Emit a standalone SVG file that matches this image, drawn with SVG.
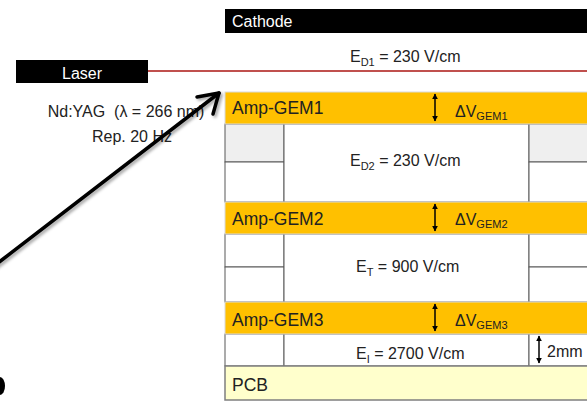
<svg xmlns="http://www.w3.org/2000/svg" width="587" height="403" viewBox="0 0 587 403">
<style>
text{font-family:"Liberation Sans",Arial,sans-serif;fill:#222}
.lbl{font-size:16px}
.wt{fill:#fff;font-size:16px}
.gem{font-size:17.5px}
.band{fill:#ffc000;stroke:#d9d9d9;stroke-width:1}
.cell{fill:#fff;stroke:#595959;stroke-width:1}
.gray{fill:#efefef;stroke:#595959;stroke-width:1}
.sub{font-size:11px}
.dbl{stroke:#000;stroke-width:1.5;marker-start:url(#sm);marker-end:url(#sm)}
</style>
<defs>
<marker id="sm" viewBox="0 0 10 10" refX="9" refY="5" markerWidth="4" markerHeight="4" orient="auto-start-reverse" markerUnits="strokeWidth">
<path d="M0,0 L10,5 L0,10 z" fill="#000"/>
</marker>
<filter id="sh" x="-20%" y="-20%" width="140%" height="140%">
<feDropShadow dx="2" dy="2" stdDeviation="1.5" flood-color="#000" flood-opacity="0.35"/>
</filter>
</defs>

<g id="cathode">
<rect x="225" y="9" width="362" height="24" fill="#000"/>
<text class="wt" x="232" y="27">Cathode</text>
</g>

<g id="laser">
<rect x="16" y="60" width="132" height="23" fill="#000"/>
<text class="wt" x="82" y="79" text-anchor="middle">Laser</text>
<text class="lbl" x="126" y="117" text-anchor="middle" font-size="15" xml:space="preserve">Nd:YAG  (λ = 266 nm)</text>
<text class="lbl" x="132" y="142" text-anchor="middle" font-size="15">Rep. 20 Hz</text>
</g>

<g id="drift1">
<text class="lbl" x="350" y="62">E<tspan class="sub" dy="4">D1</tspan><tspan dy="-4"> = 230 V/cm</tspan></text>
</g>

<g id="cells">
<rect class="gray" x="225" y="124" width="59" height="38"/>
<rect class="cell" x="225" y="162" width="59" height="40"/>
<rect class="cell" x="284" y="124" width="245" height="78"/>
<rect class="gray" x="529" y="124" width="60" height="38"/>
<rect class="cell" x="529" y="162" width="60" height="40"/>
<rect class="cell" x="225" y="234" width="59" height="33"/>
<rect class="cell" x="225" y="267" width="59" height="35"/>
<rect class="cell" x="284" y="234" width="245" height="68"/>
<rect class="cell" x="529" y="234" width="60" height="33"/>
<rect class="cell" x="529" y="267" width="60" height="35"/>
<rect class="cell" x="225" y="334" width="59" height="32"/>
<rect class="cell" x="284" y="334" width="245" height="32"/>
<rect class="cell" x="529" y="334" width="60" height="32"/>
</g>

<g id="gem1">
<rect class="band" x="225" y="92" width="364" height="32"/>
<text class="gem" x="232" y="114">Amp-GEM1</text>
<text class="lbl" x="455" y="117">ΔV<tspan class="sub" dy="3">GEM1</tspan></text>
</g>
<g id="drift2">
<text class="lbl" x="350" y="166">E<tspan class="sub" dy="4">D2</tspan><tspan dy="-4"> = 230 V/cm</tspan></text>
</g>

<g id="gem2">
<rect class="band" x="225" y="202" width="364" height="32"/>
<text class="gem" x="232" y="225">Amp-GEM2</text>
<text class="lbl" x="455" y="225">ΔV<tspan class="sub" dy="3">GEM2</tspan></text>
</g>
<g id="transfer">
<text class="lbl" x="356" y="272">E<tspan class="sub" dy="4">T</tspan><tspan dy="-4"> = 900 V/cm</tspan></text>
</g>

<g id="gem3">
<rect class="band" x="225" y="302" width="364" height="32"/>
<text class="gem" x="232" y="326">Amp-GEM3</text>
<text class="lbl" x="455" y="326">ΔV<tspan class="sub" dy="3">GEM3</tspan></text>
</g>
<g id="induction">
<text class="lbl" x="356" y="359">E<tspan class="sub" dy="4">I</tspan><tspan dy="-4"> = 2700 V/cm</tspan></text>
<text class="lbl" x="547" y="357" font-size="17">2mm</text>
</g>

<g id="pcb">
<rect x="225" y="366" width="364" height="34" fill="#ffffcc" stroke="#7f7f7f" stroke-width="1.5"/>
<text class="gem" x="232" y="391">PCB</text>
</g>

<g id="connectors">
<line x1="148" y1="71" x2="587" y2="71" stroke="#c0504d" stroke-width="2"/>
<line class="dbl" x1="435" y1="94" x2="435" y2="121"/>
<line class="dbl" x1="435" y1="204" x2="435" y2="231"/>
<line class="dbl" x1="435" y1="304" x2="435" y2="331"/>
<line class="dbl" x1="539" y1="336" x2="539" y2="363"/>
<g filter="url(#sh)" stroke="#000" stroke-width="3.5" fill="none" stroke-linecap="round" stroke-linejoin="round">
<line x1="-6" y1="266" x2="219" y2="93"/>
<polyline points="197,97 219,93 213,114"/>
</g>
</g>

<g id="fragment">
<ellipse cx="0" cy="386" rx="5" ry="9" fill="#000"/>
</g>
</svg>
